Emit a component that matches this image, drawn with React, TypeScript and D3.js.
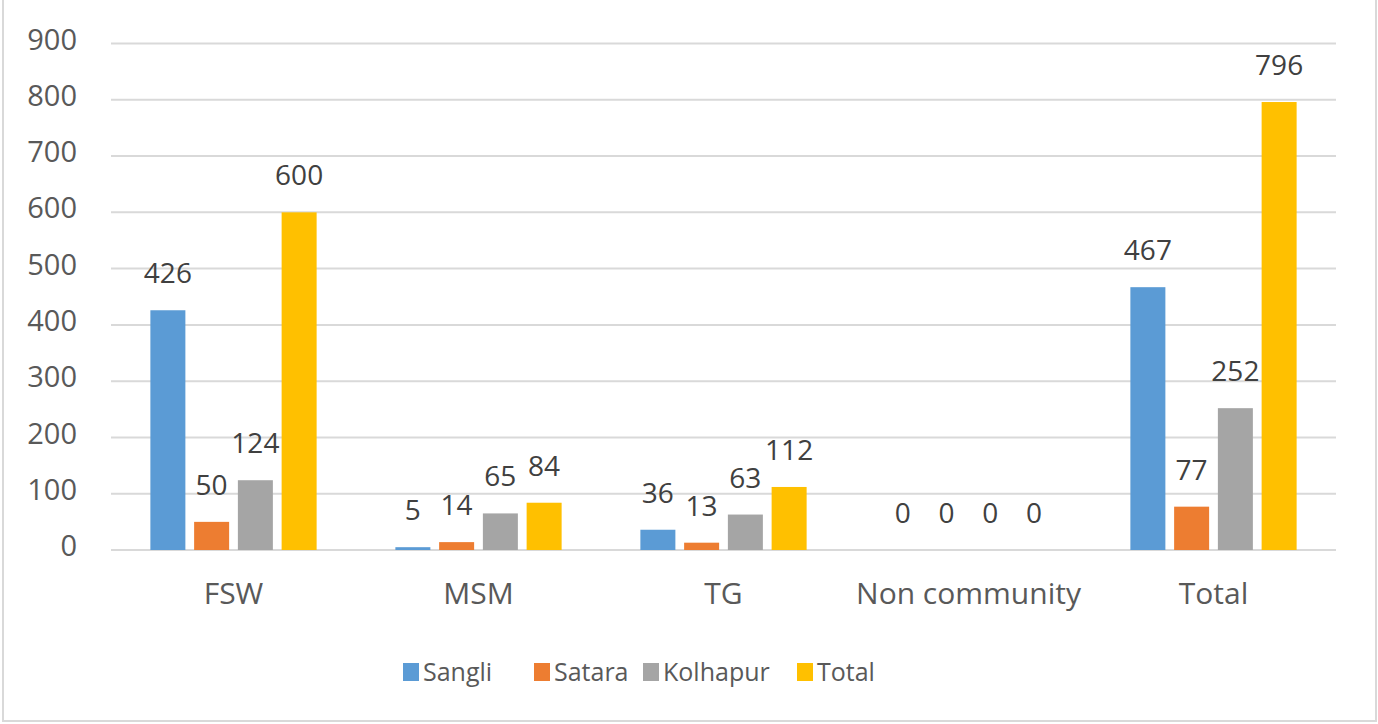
import * as d3 from 'd3';
import React, { useEffect, useRef } from 'react';

const categories = ['FSW', 'MSM', 'TG', 'Non community', 'Total'];
const seriesNames = ['Sangli', 'Satara', 'Kolhapur', 'Total'];
const sangli = [426, 5, 36, 0, 467];
const satara = [50, 14, 13, 0, 77];
const kolhapur = [124, 65, 63, 0, 252];
const total = [600, 84, 112, 0, 796];
const yTicks = [0, 100, 200, 300, 400, 500, 600, 700, 800, 900];

const colors = ['#5B9BD5', '#ED7D31', '#A5A5A5', '#FFC000'];
const font = '"Open Sans", sans-serif';

const W = 1378;
const H = 724;

const App = () => {
  const svgRef = useRef(null);

  useEffect(() => {
    const svg = d3.select(svgRef.current);
    svg.selectAll('*').remove();

    const values = [sangli, satara, kolhapur, total];

    const x0 = d3.scaleBand().domain(categories).range([111, 1336]);
    const x1 = d3
      .scaleBand()
      .domain(seriesNames)
      .range([0, x0.bandwidth()])
      .paddingInner(0.2)
      .paddingOuter(0.9);
    const y = d3.scaleLinear().domain([0, 900]).range([550, 43.5]);

    // chart frame
    svg
      .append('rect')
      .attr('x', 3)
      .attr('y', -2)
      .attr('width', W - 5)
      .attr('height', H - 1)
      .attr('fill', '#fff')
      .attr('stroke', '#d9d9d9')
      .attr('stroke-width', 2);

    // gridlines
    svg
      .append('g')
      .selectAll('line')
      .data(yTicks)
      .enter()
      .append('line')
      .attr('x1', 111)
      .attr('x2', 1336)
      .attr('y1', (d) => y(d))
      .attr('y2', (d) => y(d))
      .attr('stroke', '#d9d9d9')
      .attr('stroke-width', 2);

    // y tick labels
    svg
      .append('g')
      .selectAll('text')
      .data(yTicks)
      .enter()
      .append('text')
      .attr('x', 77)
      .attr('y', (d) => y(d) - 4)
      .attr('dy', '0.35em')
      .attr('text-anchor', 'end')
      .style('font-family', font)
      .style('font-size', '29px')
      .style('fill', '#595959')
      .text((d) => d);

    // bars + labels
    seriesNames.forEach((name, si) => {
      const g = svg.append('g');
      g.selectAll('rect')
        .data(values[si])
        .enter()
        .append('rect')
        .attr('x', (d, i) => (x0(categories[i]) as number) + (x1(name) as number))
        .attr('y', (d) => y(d))
        .attr('width', x1.bandwidth())
        .attr('height', (d) => y(0) - y(d))
        .attr('fill', colors[si]);

      g.selectAll('text')
        .data(values[si])
        .enter()
        .append('text')
        .attr('x', (d, i) => (x0(categories[i]) as number) + (x1(name) as number) + x1.bandwidth() / 2)
        .attr('y', (d) => y(d) - 27)
        .attr('text-anchor', 'middle')
        .style('font-family', font)
        .style('font-size', '28px')
        .style('fill', '#404040')
        .text((d) => d);
    });

    // x labels
    svg
      .append('g')
      .selectAll('text')
      .data(categories)
      .enter()
      .append('text')
      .attr('x', (d) => (x0(d) as number) + x0.bandwidth() / 2)
      .attr('y', 604)
      .attr('text-anchor', 'middle')
      .style('font-family', font)
      .style('font-size', '30px')
      .style('fill', '#595959')
      .text((d) => d);

    // legend
    const legendX = [403, 534, 643, 797];
    const legend = svg.append('g');
    seriesNames.forEach((name, i) => {
      legend
        .append('rect')
        .attr('x', legendX[i])
        .attr('y', 663)
        .attr('width', 16)
        .attr('height', 18)
        .attr('fill', colors[i]);
      legend
        .append('text')
        .attr('x', legendX[i] + 20)
        .attr('y', 681)
        .style('font-family', font)
        .style('font-size', '25px')
        .style('fill', '#595959')
        .text(name);
    });
  }, []);

  return (
    <svg
      ref={svgRef}
      width={W}
      height={H}
      style={{ position: 'absolute', left: 0, top: 0, background: '#fff' }}
    />
  );
};

export default App;
